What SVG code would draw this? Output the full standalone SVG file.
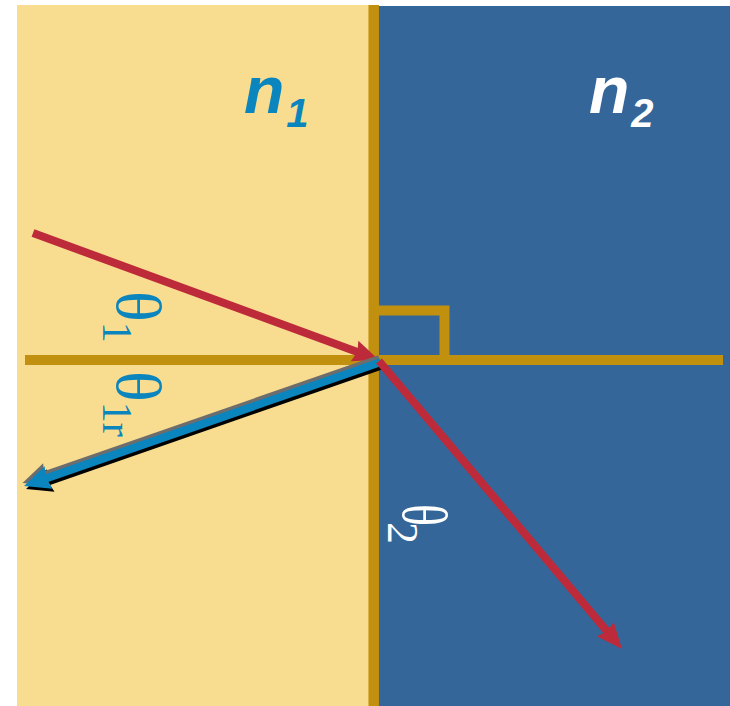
<svg xmlns="http://www.w3.org/2000/svg" width="730" height="706" viewBox="0 0 730 706">
<style>
.gold{stroke:#c1900f;fill:none}
.red{stroke:#bd2b3b;stroke-width:8;fill:none}
.ref{stroke-width:8;fill:none}
.th{font-family:"Liberation Serif","Times New Roman",serif;fill:#0b85bd}
.n{font-family:"Liberation Sans",Arial,sans-serif;font-weight:bold;font-style:italic}
</style>
<defs>
<marker id="ahRed" markerUnits="userSpaceOnUse" viewBox="-42 -14 44 28" refX="-15" refY="0" markerWidth="44" markerHeight="28" orient="auto">
<path d="M0,0 L-26,-11 L-23,0 L-26,11 Z" fill="#bd2b3b"/>
</marker>
<marker id="ahBlue" markerUnits="userSpaceOnUse" viewBox="-42 -14 44 28" refX="-15" refY="0" markerWidth="44" markerHeight="28" orient="auto">
<path d="M0,0 L-26,-12 L-23,0 L-26,12 Z" fill="#0b85bd"/>
</marker>
<marker id="ahGray" markerUnits="userSpaceOnUse" viewBox="-42 -14 44 28" refX="-15" refY="0" markerWidth="44" markerHeight="28" orient="auto">
<path d="M0,0 L-26,-12 L-23,0 L-26,12 Z" fill="#6d6d6d"/>
</marker>
<marker id="ahBlack" markerUnits="userSpaceOnUse" viewBox="-42 -14 44 28" refX="-15" refY="0" markerWidth="44" markerHeight="28" orient="auto">
<path d="M0,0 L-26,-12 L-23,0 L-26,12 Z" fill="#000"/>
</marker>
</defs>
<g id="medium1"><rect x="17" y="5" width="352" height="701" fill="#f8dc8f"/></g>
<g id="medium2"><rect x="378" y="6" width="352" height="700" fill="#356699"/></g>
<g id="interface"><line class="gold" x1="373.7" y1="5" x2="373.7" y2="706" stroke-width="10.5"/></g>
<g id="normal"><line class="gold" x1="25" y1="360" x2="723" y2="360" stroke-width="10"/></g>
<g id="rightangle"><polyline class="gold" points="373.7,310.5 444.5,310.5 444.5,360" stroke-width="10"/></g>
<g id="connectors">
<line id="incident" class="red" x1="33" y1="233" x2="364.9" y2="354.8" marker-end="url(#ahRed)"/>
<g id="reflected">
<line class="ref" stroke="#000" x1="383" y1="365" x2="40.2" y2="484.1" marker-end="url(#ahBlack)"/>
<line class="ref" stroke="#6d6d6d" x1="379.5" y1="359" x2="36.7" y2="478.1" marker-end="url(#ahGray)"/>
<line class="ref" stroke="#0b85bd" x1="381" y1="362" x2="38.2" y2="481.1" marker-end="url(#ahBlue)"/>
</g>
<line id="refracted" class="red" x1="379" y1="361" x2="612.3" y2="637.5" marker-end="url(#ahRed)"/>
</g>
<g id="label-n1"><text class="n" x="244" y="113" font-size="66" fill="#0b85bd">n<tspan font-size="40" dy="14" dx="2">1</tspan></text></g>
<g id="label-n2"><text class="n" x="589" y="113" font-size="66" fill="#fff">n<tspan font-size="40" dy="14" dx="2">2</tspan></text></g>
<g id="label-theta1"><text class="th" transform="translate(117,291) rotate(90)" font-size="64">θ<tspan font-size="42" dy="14">1</tspan></text></g>
<g id="label-theta1r"><text class="th" transform="translate(117,371) rotate(90)" font-size="64">θ<tspan font-size="42" dy="14">1r</tspan></text></g>
<g id="label-theta2">
<text class="th" transform="translate(403,504) rotate(90) scale(0.72,1)" font-size="64" fill="#fff" style="fill:#fff">θ</text>
<text class="th" transform="translate(388,522) rotate(90)" font-size="44" style="fill:#fff">2</text>
</g>
</svg>
